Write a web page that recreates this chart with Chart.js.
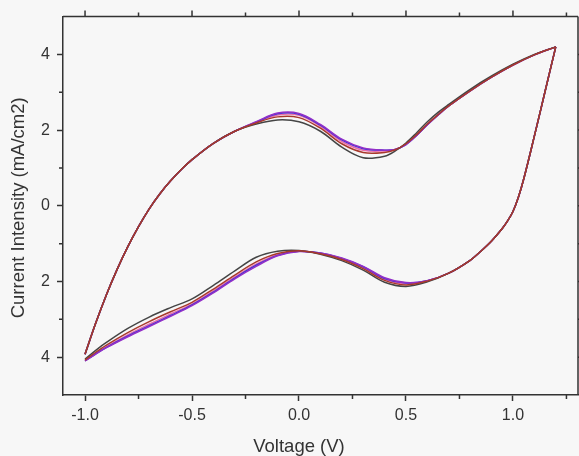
<!DOCTYPE html>
<html>
<head>
<meta charset="utf-8">
<script src="https://cdn.jsdelivr.net/npm/chart.js@4.4.1/dist/chart.umd.min.js"></script>
<style>
  body { margin: 0; background: #f7f7f7; }
  canvas { display: block; }
</style>
</head>
<body>
<canvas id="cvChart" width="579" height="456"></canvas>
<script>
// barrido de ida (-1.0 -> 1.2 V) y de regreso (1.2 -> -1.0 V)
var voltageFwd = [-1.0, -0.95, -0.9, -0.85, -0.8, -0.75, -0.7, -0.65, -0.6, -0.55, -0.5, -0.4, -0.3, -0.2, -0.1, 0.0, 0.1, 0.2, 0.3, 0.4, 0.45, 0.5, 0.55, 0.6, 0.65, 0.7, 0.8, 0.9, 1.0, 1.1, 1.2];
var voltageRev = [1.2, 1.15, 1.1, 1.05, 1.025, 1.0, 0.975, 0.95, 0.9, 0.85, 0.8, 0.7, 0.6, 0.5, 0.4, 0.3, 0.2, 0.1, 0.0, -0.1, -0.2, -0.3, -0.4, -0.5, -0.6, -0.7, -0.8, -0.9, -0.95, -1.0];

// corriente (mA/cm2) por ciclo
var cycle1Fwd = [-3.92, -3.1, -2.35, -1.68, -1.08, -0.55, -0.08, 0.32, 0.66, 0.96, 1.22, 1.65, 1.97, 2.16, 2.27, 2.22, 1.97, 1.55, 1.27, 1.31, 1.45, 1.66, 1.93, 2.22, 2.47, 2.68, 3.08, 3.43, 3.74, 4.0, 4.2];
var cycle1Rev = [4.2, 3.02, 1.84, 0.7, 0.22, -0.15, -0.4, -0.6, -0.93, -1.2, -1.44, -1.78, -2.01, -2.13, -2.02, -1.7, -1.45, -1.28, -1.18, -1.2, -1.36, -1.72, -2.1, -2.46, -2.69, -2.94, -3.24, -3.61, -3.82, -4.05];
var cycle2Fwd = [-3.92, -3.1, -2.35, -1.68, -1.08, -0.55, -0.08, 0.32, 0.66, 0.96, 1.22, 1.65, 1.97, 2.19, 2.35, 2.33, 2.05, 1.64, 1.41, 1.41, 1.48, 1.64, 1.88, 2.16, 2.41, 2.64, 3.04, 3.4, 3.72, 3.99, 4.2];
var cycle2Rev = [4.2, 3.02, 1.84, 0.7, 0.22, -0.15, -0.4, -0.6, -0.93, -1.2, -1.44, -1.78, -1.99, -2.09, -1.97, -1.66, -1.42, -1.27, -1.19, -1.26, -1.48, -1.83, -2.2, -2.55, -2.8, -3.06, -3.35, -3.68, -3.87, -4.08];
var cycle3Fwd = [-3.92, -3.1, -2.35, -1.68, -1.08, -0.55, -0.08, 0.32, 0.66, 0.96, 1.22, 1.65, 1.97, 2.2, 2.4, 2.39, 2.1, 1.7, 1.47, 1.45, 1.49, 1.63, 1.87, 2.15, 2.4, 2.64, 3.04, 3.4, 3.72, 3.99, 4.2];
var cycle3Rev = [4.2, 3.02, 1.84, 0.7, 0.22, -0.15, -0.4, -0.6, -0.93, -1.2, -1.44, -1.78, -1.98, -2.06, -1.94, -1.63, -1.4, -1.26, -1.2, -1.29, -1.54, -1.88, -2.25, -2.6, -2.86, -3.13, -3.41, -3.72, -3.9, -4.09];
var cycle4Fwd = [-3.92, -3.1, -2.35, -1.68, -1.08, -0.55, -0.08, 0.32, 0.66, 0.96, 1.22, 1.65, 1.97, 2.21, 2.43, 2.42, 2.13, 1.74, 1.51, 1.47, 1.49, 1.62, 1.86, 2.14, 2.4, 2.64, 3.04, 3.4, 3.72, 3.99, 4.2];
var cycle4Rev = [4.2, 3.02, 1.84, 0.7, 0.22, -0.15, -0.4, -0.6, -0.93, -1.2, -1.44, -1.78, -1.98, -2.04, -1.92, -1.61, -1.39, -1.25, -1.2, -1.31, -1.57, -1.91, -2.28, -2.62, -2.9, -3.17, -3.44, -3.74, -3.91, -4.1];
var cycle5Fwd = [-3.92, -3.1, -2.35, -1.68, -1.08, -0.55, -0.08, 0.32, 0.66, 0.96, 1.22, 1.65, 1.97, 2.22, 2.45, 2.44, 2.15, 1.76, 1.53, 1.47, 1.49, 1.62, 1.86, 2.14, 2.4, 2.64, 3.04, 3.4, 3.72, 3.99, 4.2];
var cycle5Rev = [4.2, 3.02, 1.84, 0.7, 0.22, -0.15, -0.4, -0.6, -0.93, -1.2, -1.44, -1.78, -1.98, -2.03, -1.9, -1.6, -1.38, -1.25, -1.21, -1.32, -1.6, -1.93, -2.3, -2.64, -2.92, -3.19, -3.46, -3.75, -3.92, -4.1];

var xTicks = [-1.0, -0.5, 0.0, 0.5, 1.0];
var xMinorTicks = [-0.75, -0.25, 0.25, 0.75, 1.25];
var yTicks = [-4, -2, 0, 2, 4];
var yTickLabels = ['4', '2', '0', '2', '4'];
var yMinorTicks = [-3, -1, 1, 3];
var xTitle = 'Voltage (V)';
var yTitle = 'Current Intensity (mA/cm2)';

var ejeColor = '#333333';
var fuente = '"Liberation Sans", Arial, sans-serif';

function puntos(volt, corriente){
	var p = [];
	for(var i = 0 ; i < volt.length ; i++){
		p[i] = {x: volt[i], y: corriente[i]};
	}
	return p;
}

function serie(volt, corriente, color, orden){
	return {
		data: puntos(volt, corriente),
		showLine: true,
		borderColor: color,
		borderWidth: 1.5,
		pointRadius: 0,
		tension: 0.35,
		fill: false,
		order: orden
	};
}

// marcas menores, ejes superior/derecho y titulos
var marcosPlugin = {
	id: 'marcos',
	beforeDraw: function(chart){
		var ctx = chart.ctx;
		ctx.save();
		ctx.fillStyle = '#f7f7f7';
		ctx.fillRect(0, 0, chart.width, chart.height);
		ctx.restore();
	},
	afterDraw: function(chart){
		var ctx = chart.ctx, a = chart.chartArea;
		var sx = chart.scales.x, sy = chart.scales.y;
		ctx.save();
		ctx.strokeStyle = ejeColor;
		ctx.lineWidth = 1.5;
		ctx.beginPath();
		ctx.moveTo(a.left, a.top); ctx.lineTo(a.right, a.top);
		ctx.moveTo(a.right, a.top); ctx.lineTo(a.right, a.bottom);
		xTicks.forEach(function(v){
			var px = sx.getPixelForValue(v);
			ctx.moveTo(px, a.top); ctx.lineTo(px, a.top - 6);
		});
		yTicks.forEach(function(v){
			var py = sy.getPixelForValue(v);
			ctx.moveTo(a.right, py); ctx.lineTo(a.right + 6, py);
		});
		xMinorTicks.forEach(function(v){
			var px = sx.getPixelForValue(v);
			ctx.moveTo(px, a.top); ctx.lineTo(px, a.top - 4);
			ctx.moveTo(px, a.bottom); ctx.lineTo(px, a.bottom + 4);
		});
		yMinorTicks.forEach(function(v){
			var py = sy.getPixelForValue(v);
			ctx.moveTo(a.left, py); ctx.lineTo(a.left - 4, py);
			ctx.moveTo(a.right, py); ctx.lineTo(a.right + 4, py);
		});
		ctx.stroke();

		ctx.fillStyle = ejeColor;
		ctx.font = '18.5px ' + fuente;
		ctx.textAlign = 'center';
		ctx.textBaseline = 'middle';
		ctx.fillText(xTitle, sx.getPixelForValue(0), 447);
		ctx.translate(19, (a.top + a.bottom) / 2 + 2);
		ctx.rotate(-Math.PI / 2);
		ctx.fillText(yTitle, 0, 0);
		ctx.restore();
	}
};

var grafica = new Chart(document.getElementById('cvChart'), {
	type: 'scatter',
	data: {
		datasets: [
			serie(voltageFwd, cycle2Fwd, '#a8392c', 0),
			serie(voltageRev, cycle2Rev, '#a8392c', 0),
			serie(voltageFwd, cycle1Fwd, '#454545', 1),
			serie(voltageRev, cycle1Rev, '#454545', 1),
			serie(voltageFwd, cycle5Fwd, '#9330c8', 2),
			serie(voltageRev, cycle5Rev, '#9330c8', 2),
			serie(voltageFwd, cycle4Fwd, '#3b35d6', 3),
			serie(voltageRev, cycle4Rev, '#3b35d6', 3),
			serie(voltageFwd, cycle3Fwd, '#ec6aa8', 4),
			serie(voltageRev, cycle3Rev, '#ec6aa8', 4)
		]
	},
	options: {
		responsive: false,
		animation: false,
		layout: {padding: {left: 0, right: 1, top: 14, bottom: 0}},
		plugins: {legend: {display: false}, tooltip: {enabled: false}},
		scales: {
			x: {
				type: 'linear', position: 'bottom', min: -1.103, max: 1.304,
				afterBuildTicks: function(s){ s.ticks = xTicks.map(function(v){ return {value: v}; }); },
				afterFit: function(s){ s.height = 61; },
				ticks: {
					callback: function(v){ return v.toFixed(1); },
					font: {family: fuente, size: 16}, color: ejeColor,
					padding: 5, maxRotation: 0, autoSkip: false
				},
				grid: {drawOnChartArea: false, drawTicks: true, tickLength: 6, tickColor: ejeColor, tickWidth: 1.5},
				border: {color: ejeColor, width: 1.5}
			},
			y: {
				type: 'linear', position: 'left', min: -5, max: 5,
				afterBuildTicks: function(s){ s.ticks = yTicks.map(function(v){ return {value: v}; }); },
				afterFit: function(s){ s.width = 63; },
				ticks: {
					callback: function(v, i){ return yTickLabels[i]; },
					font: {family: fuente, size: 16}, color: ejeColor,
					padding: 7, autoSkip: false
				},
				grid: {drawOnChartArea: false, drawTicks: true, tickLength: 6, tickColor: ejeColor, tickWidth: 1.5},
				border: {color: ejeColor, width: 1.5}
			}
		}
	},
	plugins: [marcosPlugin]
});
</script>
</body>
</html>
